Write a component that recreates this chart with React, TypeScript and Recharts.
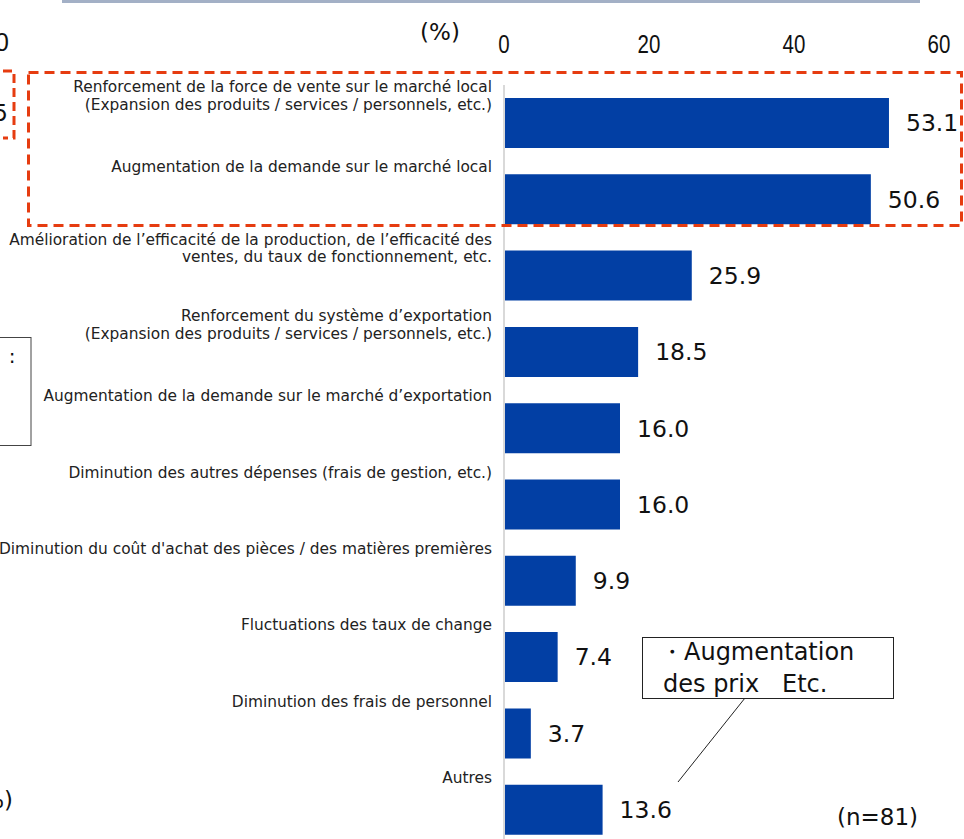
import { BarChart, Bar, XAxis, YAxis, LabelList } from "recharts";

const categories = [
  "Renforcement de la force de vente sur le marché local\n(Expansion des produits / services / personnels, etc.)",
  "Augmentation de la demande sur le marché local",
  "Amélioration de l’efficacité de la production, de l’efficacité des\nventes, du taux de fonctionnement, etc.",
  "Renforcement du système d’exportation\n(Expansion des produits / services / personnels, etc.)",
  "Augmentation de la demande sur le marché d’exportation",
  "Diminution des autres dépenses (frais de gestion, etc.)",
  "Diminution du coût d'achat des pièces / des matières premières",
  "Fluctuations des taux de change",
  "Diminution des frais de personnel",
  "Autres",
];
const values = [53.1, 50.6, 25.9, 18.5, 16.0, 16.0, 9.9, 7.4, 3.7, 13.6];
const xTicks = [0, 20, 40, 60];

const data = categories.map((name, i) => ({ name, value: values[i] }));

const LABEL_FONT = "'DejaVu Sans', Verdana, sans-serif";

function CategoryTick({ x, y, payload }: any) {
  const lines = String(payload.value).split("\n");
  const startY = lines.length > 1 ? y - 36 : y - 32;
  return (
    <g>
      {lines.map((line, i) => (
        <text
          key={i}
          x={x}
          y={startY + i * 17.5}
          textAnchor="end"
          dominantBaseline="central"
          fontFamily={LABEL_FONT}
          fontSize={15.4}
          fill="#222"
        >
          {line}
        </text>
      ))}
    </g>
  );
}

function ValueTick({ x, payload }: any) {
  return (
    <text
      transform={`translate(${x},44) scale(0.82,1)`}
      textAnchor="middle"
      dominantBaseline="central"
      fontFamily="'Liberation Sans Narrow', 'Liberation Sans', sans-serif"
      fontSize={25}
      fill="#111"
    >
      {payload.value}
    </text>
  );
}

export default function App() {
  return (
    <div
      style={{
        position: "fixed",
        left: 0,
        top: 0,
        width: 964,
        height: 839,
        overflow: "hidden",
        background: "#fff",
      }}
    >
      <BarChart
        width={964}
        height={848}
        data={data}
        layout="vertical"
        margin={{ top: 0, right: 25, bottom: 0, left: 0 }}
        barSize={50}
      >
        <XAxis
          type="number"
          orientation="top"
          domain={[0, 60]}
          ticks={xTicks}
          height={85}
          axisLine={false}
          tickLine={false}
          tick={<ValueTick />}
        />
        <YAxis
          type="category"
          dataKey="name"
          width={504}
          tickSize={0}
          tickMargin={12}
          axisLine={{ stroke: "#d9d9d9", strokeWidth: 2 }}
          tickLine={false}
          tick={<CategoryTick />}
          interval={0}
        />
        <Bar dataKey="value" fill="#023fa4" isAnimationActive={false}>
          <LabelList
            dataKey="value"
            position="right"
            offset={17}
            formatter={(v: any) => Number(v).toFixed(1)}
            style={{ fontFamily: LABEL_FONT, fontSize: 23.5, fill: "#111" }}
          />
        </Bar>
      </BarChart>

      {/* decorations from the slide */}
      <svg
        width={964}
        height={839}
        style={{ position: "absolute", left: 0, top: 0, pointerEvents: "none" }}
      >
        <rect x={62} y={0} width={858} height={3} fill="#a3b0c6" />
        <text x={440} y={32} textAnchor="middle" dominantBaseline="central" fontFamily={LABEL_FONT} fontSize={23} fill="#111">
          (%)
        </text>
        <text x={9} y={42} textAnchor="end" dominantBaseline="central" fontFamily="'Liberation Sans Narrow', sans-serif" fontSize={25} fill="#111">
          0
        </text>
        <text x={8} y={113} textAnchor="end" dominantBaseline="central" fontFamily={LABEL_FONT} fontSize={23} fill="#111">
          5
        </text>
        <polyline points="3,71 14,71 14,138 3,138" fill="none" stroke="#e63c10" strokeWidth={3} strokeDasharray="9 5" />
        <rect x={28.5} y={72.5} width={933} height={153} fill="none" stroke="#e63c10" strokeWidth={3} strokeDasharray="10 6" />
        <rect x={-10} y={337.5} width={41} height={108} fill="#fff" stroke="#444" strokeWidth={1} />
        <text x={12} y={356} textAnchor="middle" dominantBaseline="central" fontFamily={LABEL_FONT} fontSize={20} fill="#111">
          :
        </text>
        <text x={13} y={800} textAnchor="end" dominantBaseline="central" fontFamily={LABEL_FONT} fontSize={23} fill="#111">
          %)
        </text>
        <line x1={745} y1={698} x2={678} y2={782} stroke="#222" strokeWidth={1} />
        <rect x={642.5} y={637.5} width={251} height={61} fill="#fff" stroke="#222" strokeWidth={1} />
        <text x={660} y={652} dominantBaseline="central" fontFamily={LABEL_FONT} fontSize={24} fill="#111">
          ・Augmentation
        </text>
        <text x={663} y={684} dominantBaseline="central" fontFamily={LABEL_FONT} fontSize={24} fill="#111" xmlSpace="preserve">
          des prix   Etc.
        </text>
        <text x={918} y={817} textAnchor="end" dominantBaseline="central" fontFamily={LABEL_FONT} fontSize={23} fill="#111">
          (n=81)
        </text>
      </svg>
    </div>
  );
}
